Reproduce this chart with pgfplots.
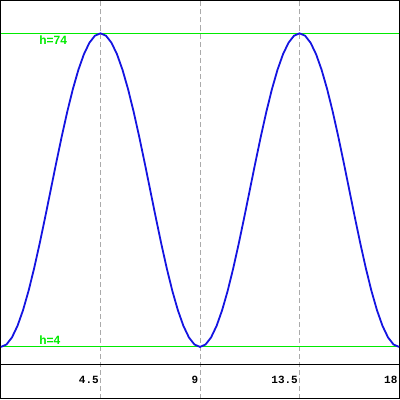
\documentclass[border=0pt]{standalone}
\usepackage{pgfplots}
\pgfplotsset{compat=1.18}
\usepackage{fontspec}
\setmainfont{Liberation Sans}
\setmonofont{Liberation Mono}
\definecolor{curveblue}{RGB}{20,20,225}
\definecolor{hgreen}{RGB}{0,235,0}
\definecolor{gridgray}{RGB}{170,170,170}
\begin{document}
\begin{tikzpicture}
\begin{axis}[
  scale only axis, width=398pt, height=398pt,
  xmin=0, xmax=18, ymin=-7.56, ymax=81.33,
  axis line style={black, line width=1pt},
  ytick=\empty,
  xtick={4.5,9,13.5,18},
  xticklabels={4.5,9,13.5,18},
  major tick length=0pt,
  xmajorgrids,
  grid style={gridgray, dashed, dash pattern=on 5pt off 3pt, line width=0.8pt},
  xticklabel style={font=\fontsize{11}{13}\selectfont\ttfamily\bfseries, anchor=base east, inner sep=0pt, xshift=-1.5pt, yshift=15.5pt},
  clip=false,
]
\addplot[black, line width=1pt] coordinates {(0,0) (18,0)};
\addplot[hgreen, line width=1pt] coordinates {(0,74) (18,74)};
\addplot[hgreen, line width=1pt] coordinates {(0,4) (18,4)};
\addplot[curveblue, line width=1.8pt] coordinates {
(0,4) (0.25,4.53) (0.5,6.11) (0.75,8.69) (1,12.19) (1.25,16.50) (1.5,21.5) (1.75,27.03) (2,32.92)
(2.25,39) (2.5,45.08) (2.75,50.97) (3,56.5) (3.25,61.50) (3.5,65.81) (3.75,69.31) (4,71.89) (4.25,73.47)
(4.5,74) (4.75,73.47) (5,71.89) (5.25,69.31) (5.5,65.81) (5.75,61.50) (6,56.5) (6.25,50.97) (6.5,45.08)
(6.75,39) (7,32.92) (7.25,27.03) (7.5,21.5) (7.75,16.50) (8,12.19) (8.25,8.69) (8.5,6.11) (8.75,4.53)
(9,4) (9.25,4.53) (9.5,6.11) (9.75,8.69) (10,12.19) (10.25,16.50) (10.5,21.5) (10.75,27.03) (11,32.92)
(11.25,39) (11.5,45.08) (11.75,50.97) (12,56.5) (12.25,61.50) (12.5,65.81) (12.75,69.31) (13,71.89) (13.25,73.47)
(13.5,74) (13.75,73.47) (14,71.89) (14.25,69.31) (14.5,65.81) (14.75,61.50) (15,56.5) (15.25,50.97) (15.5,45.08)
(15.75,39) (16,32.92) (16.25,27.03) (16.5,21.5) (16.75,16.50) (17,12.19) (17.25,8.69) (17.5,6.11) (17.75,4.53)
(18,4)};
\node[anchor=base west, inner sep=0pt, text=hgreen, font=\fontsize{12}{14}\selectfont\bfseries] at (axis cs:1.73,71.6) {h=74};
\node[anchor=base west, inner sep=0pt, text=hgreen, font=\fontsize{12}{14}\selectfont\bfseries] at (axis cs:1.73,4.55) {h=4};
\end{axis}
\end{tikzpicture}
\end{document}
